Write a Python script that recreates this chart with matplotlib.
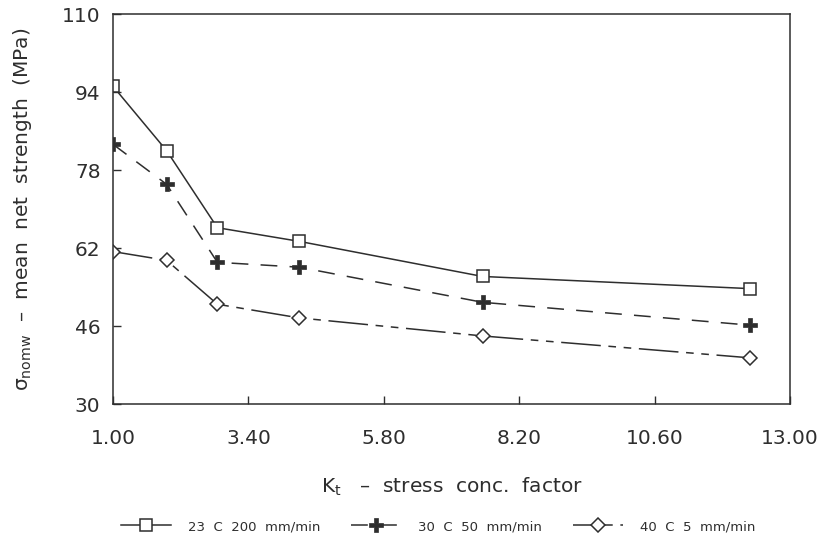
import matplotlib.pyplot as plt

# Stress concentration factor (x) and mean net strength (MPa) for each test
kt = [1.0, 1.95, 2.85, 4.3, 7.55, 12.3]
strength_23c = [95.2, 82.0, 66.2, 63.4, 56.2, 53.7]
strength_30c = [83.3, 75.1, 59.1, 58.1, 50.9, 46.2]
strength_40c = [61.3, 59.5, 50.5, 47.7, 44.0, 39.5]

labels = ["23  C  200  mm/min", "30  C  50  mm/min", "40  C  5  mm/min"]
x_ticks = [1.00, 3.40, 5.80, 8.20, 10.60, 13.00]
y_ticks = [30, 46, 62, 78, 94, 110]

ink = "#2e2e2e"
plt.rcParams["font.family"] = ["DejaVu Sans"]

fig = plt.figure(figsize=(8.22, 5.44), dpi=100)
ax = fig.add_axes([0.1375, 0.257, 0.8235, 0.717])

ax.plot(kt, strength_23c, color=ink, lw=1.1, ls="-",
        marker="s", ms=9, mfc="white", mec=ink, mew=1.1, label=labels[0])
ax.plot(kt, strength_30c, color=ink, lw=1.1, ls=(0, (11, 8)),
        marker="P", ms=10, mfc=ink, mec=ink, mew=0.5, label=labels[1])
ax.plot(kt, strength_40c, color=ink, lw=1.1, ls=(0, (26, 5, 5, 5, 5, 5)),
        marker="D", ms=7, mfc="white", mec=ink, mew=1.1, label=labels[2])

ax.set_xlim(1, 13)
ax.set_ylim(30, 110)
ax.set_xticks(x_ticks)
ax.set_xticklabels([f"{v:.2f}" for v in x_ticks])
ax.set_yticks(y_ticks)
ax.tick_params(direction="in", length=6, width=1, color=ink,
               labelsize=14.5, labelcolor=ink, pad=9)
ax.tick_params(axis="x", pad=18)
for s in ax.spines.values():
    s.set_color(ink)
    s.set_linewidth(1.1)

ax.set_xlabel(r"K$_\mathrm{t}$   –  stress  conc.  factor", fontsize=14.5, color=ink, labelpad=20)
ax.set_ylabel(r"σ$_\mathrm{nomw}$  –  mean  net  strength  (MPa)", fontsize=14.5,
              color=ink, labelpad=20)

fig.legend(loc="center", bbox_to_anchor=(0.533, 0.032), ncol=3, frameon=False,
           fontsize=9.5, handlelength=3.8, handletextpad=1.3, columnspacing=2.3,
           labelcolor=ink)

fig.savefig("out.png", dpi=100)
